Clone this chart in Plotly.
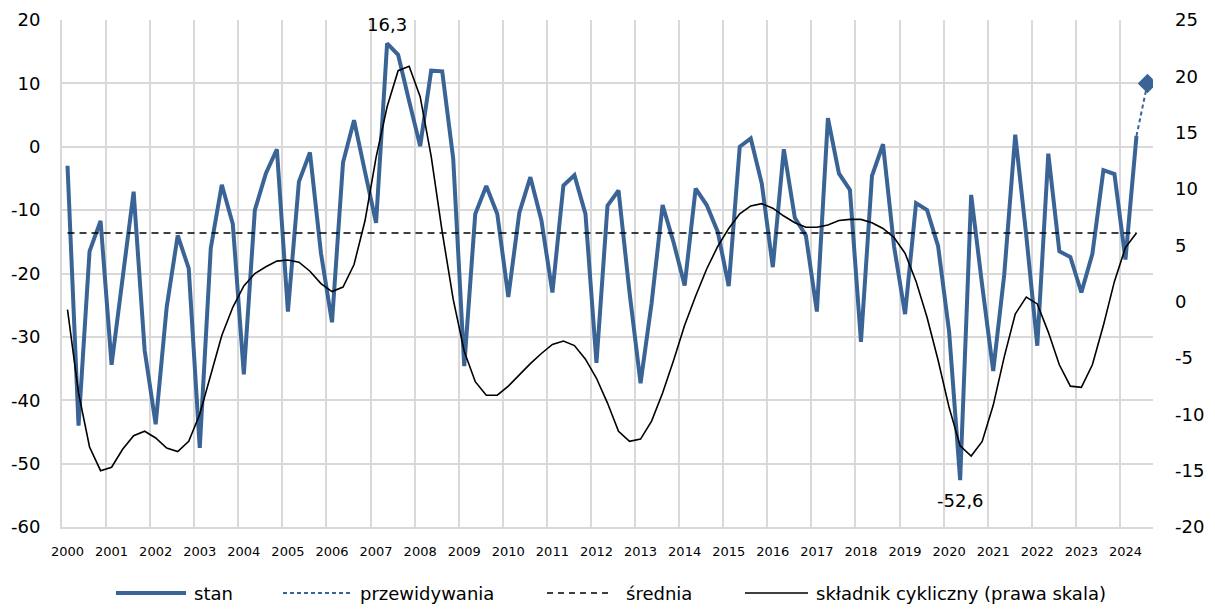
import plotly.graph_objects as go

years = list(range(2000, 2025))
quarters = [f"{y}Q{q}" for y in years for q in range(1, 5)][:99]  # 2000Q1 .. 2024Q3

stan = [-3.0, -44.0, -16.5, -11.7, -34.4, -20.7, -7.1, -32.1, -43.8, -25.3,
        -14.0, -19.2, -47.5, -16.0, -6.0, -12.2, -35.9, -10.0, -4.2, -0.4,
        -26.0, -5.5, -0.9, -16.8, -27.7, -2.5, 4.2, -4.0, -12.0, 16.3,
        14.5, 7.2, 0.1, 12.0, 11.9, -1.9, -34.6, -10.6, -6.2, -10.6,
        -23.7, -10.4, -4.8, -11.6, -23.0, -6.1, -4.5, -10.6, -34.1, -9.3,
        -6.9, -23.0, -37.3, -24.7, -9.2, -15.1, -21.9, -6.6, -9.2, -13.4,
        -22.0, 0.0, 1.3, -5.8, -19.0, -0.4, -11.2, -14.0, -26.0, 4.5,
        -4.2, -6.8, -30.8, -4.6, 0.4, -15.7, -26.4, -8.9, -10.0, -15.7,
        -29.2, -52.6, -7.6, -21.9, -35.4, -20.2, 1.9, -14.0, -31.4, -1.1,
        -16.5, -17.4, -23.0, -16.9, -3.7, -4.3, -17.8, 1.7]
prognoza = 10.0
srednia = -13.6
cykl = [-0.7, -8.1, -12.9, -15.0, -14.7, -13.1, -11.9, -11.5, -12.1, -13.0,
        -13.3, -12.4, -10.0, -6.5, -3.0, -0.5, 1.4, 2.5, 3.1, 3.6,
        3.7, 3.5, 2.7, 1.6, 0.9, 1.3, 3.3, 7.2, 12.8, 17.3,
        20.5, 20.9, 18.2, 12.9, 6.2, 0.2, -4.4, -7.1, -8.3, -8.3,
        -7.5, -6.5, -5.5, -4.6, -3.8, -3.5, -3.9, -5.1, -6.8, -9.0,
        -11.5, -12.4, -12.2, -10.6, -8.1, -5.2, -2.1, 0.5, 2.9, 4.9,
        6.5, 7.8, 8.5, 8.7, 8.3, 7.6, 7.0, 6.6, 6.6, 6.8,
        7.2, 7.3, 7.3, 7.0, 6.5, 5.7, 4.3, 1.8, -1.4, -5.2,
        -9.4, -12.8, -13.7, -12.4, -9.2, -4.9, -1.1, 0.4, -0.2, -2.7,
        -5.6, -7.5, -7.6, -5.6, -2.1, 1.8, 4.8, 6.1]

left_ticks = list(range(-60, 21, 10))
right_ticks = list(range(-20, 26, 5))
legend_names = ["stan", "przewidywania", "średnia", "składnik cykliczny (prawa skala)"]

BLUE = "#3a6496"
GRID = "#d9d9d9"
FONT = "DejaVu Sans"
PAGE_OFF = 8  # default body margin of the page
W, H = 1215 - PAGE_OFF, 610 - PAGE_OFF
ML, MT = 62 - PAGE_OFF, 20 - PAGE_OFF
PW, PH = 1091, 507
MR, MB = W - ML - PW, H - MT - PH

x_all = list(range(len(quarters)))
n = len(stan)
x_stan = x_all[:n]

fig = go.Figure()
fig.add_trace(go.Scatter(x=x_stan, y=stan, mode="lines", name=legend_names[0],
                         line=dict(color=BLUE, width=4)))
fig.add_trace(go.Scatter(x=[x_all[n - 1], x_all[n]], y=[stan[-1], prognoza], mode="lines",
                         name=legend_names[1], line=dict(color=BLUE, width=2, dash="4px,3px")))
fig.add_trace(go.Scatter(x=[x_all[n]], y=[prognoza], mode="markers",
                         marker=dict(symbol="diamond", size=15, color=BLUE)))
fig.add_trace(go.Scatter(x=x_stan, y=[srednia] * n, mode="lines", name=legend_names[2],
                         line=dict(color="black", width=1.6, dash="7px,5px")))
fig.add_trace(go.Scatter(x=x_stan, y=cykl, mode="lines", name=legend_names[3],
                         line=dict(color="black", width=1.6), yaxis="y2"))

imax = stan.index(max(stan))
imin = stan.index(min(stan))
fig.add_annotation(x=imax, y=max(stan), text=f"{max(stan):.1f}".replace(".", ","),
                   showarrow=False, yanchor="bottom", yshift=6,
                   font=dict(family=FONT, size=18, color="black"))
fig.add_annotation(x=imin, y=min(stan), text=f"{min(stan):.1f}".replace(".", ","),
                   showarrow=False, yanchor="top", yshift=-8,
                   font=dict(family=FONT, size=18, color="black"))

# legend drawn below the plot (page pixel positions converted to paper coordinates)
def px(xp):
    return (xp - 62) / PW

ly = (527 - 593) / PH
legend_items = [
    (116, 186, 192, dict(color=BLUE, width=4)),
    (283, 350, 358, dict(color=BLUE, width=2, dash="4px,3px")),
    (547, 610, 624, dict(color="black", width=1.6, dash="6px,5px")),
    (745, 808, 814, dict(color="black", width=1.6)),
]
for name, (x0, x1, xt, ln) in zip(legend_names, legend_items):
    fig.add_shape(type="line", xref="paper", yref="paper", x0=px(x0), x1=px(x1),
                  y0=ly, y1=ly, line=ln)
    fig.add_annotation(xref="paper", yref="paper", x=px(xt), y=ly, text=name,
                       showarrow=False, xanchor="left", yanchor="middle",
                       font=dict(family=FONT, size=18, color="black"))

fig.update_layout(
    width=W, height=H,
    margin=dict(l=ML, r=MR, t=MT, b=MB, autoexpand=False),
    plot_bgcolor="white", paper_bgcolor="white",
    font=dict(family=FONT, color="black"),
    showlegend=False,
    xaxis=dict(range=[-0.5, len(quarters) - 0.5],
               tickvals=[i for i in x_all if i % 4 == 0],
               ticktext=[str(y) for y in years],
               showgrid=False, zeroline=False, showline=True, linecolor=GRID, linewidth=2,
               tickfont=dict(family=FONT, size=13), ticks="", ticklabelstandoff=11,
               automargin=False,
               minor=dict(tick0=-0.5, dtick=4, showgrid=True, gridcolor=GRID, gridwidth=2,
                          ticks="")),
    yaxis=dict(range=[-60, 20], tickvals=left_ticks, ticktext=[str(v) for v in left_ticks],
               showgrid=True, gridcolor=GRID, gridwidth=2, zeroline=False,
               showline=True, linecolor=GRID, linewidth=2, automargin=False,
               tickfont=dict(family=FONT, size=18), ticklabelstandoff=16),
    yaxis2=dict(range=[-20, 25], tickvals=right_ticks, ticktext=[str(v) for v in right_ticks],
                overlaying="y", side="right", automargin=False,
                showgrid=False, zeroline=False, showline=False,
                tickfont=dict(family=FONT, size=18), ticklabelstandoff=21),
)

fig.write_html("out.html")
